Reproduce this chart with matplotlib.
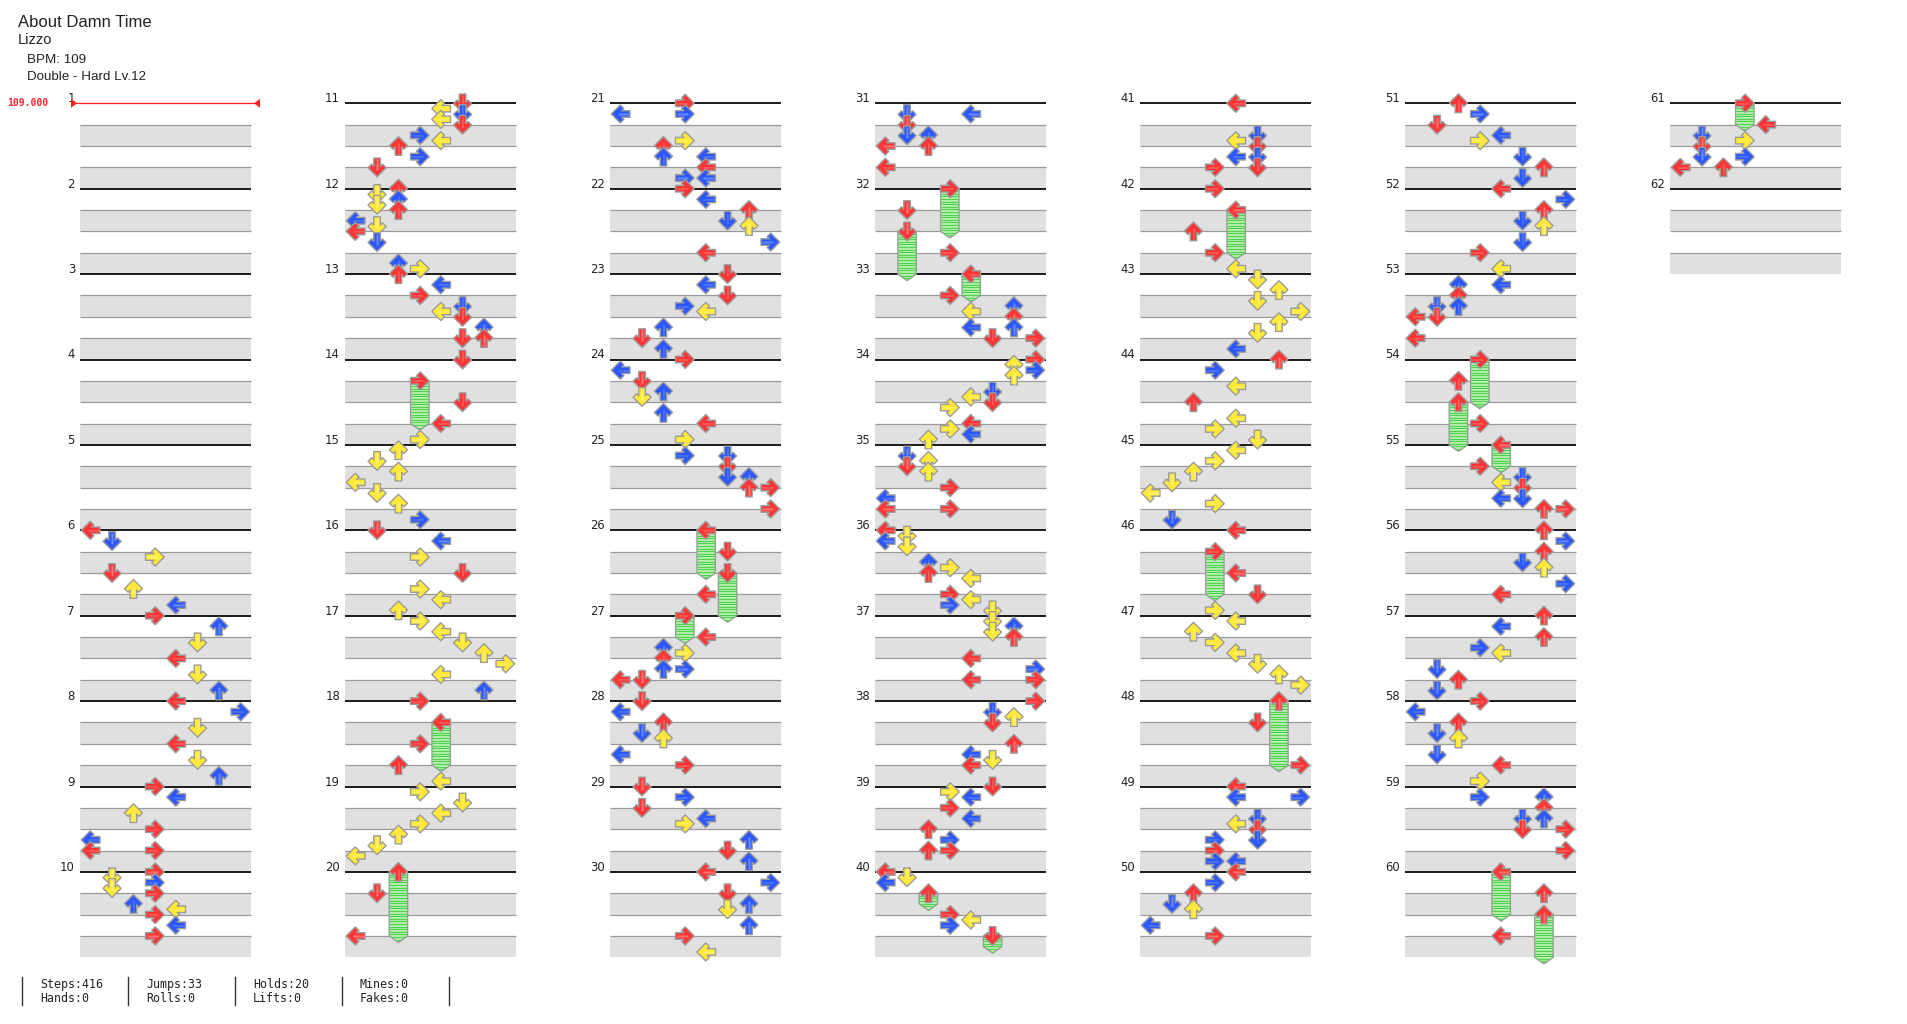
import numpy as np
import matplotlib
matplotlib.use('Agg')
import matplotlib.pyplot as plt
from matplotlib.patches import Polygon, Rectangle
from matplotlib.collections import PolyCollection, LineCollection

title = 'About Damn Time'
artist = 'Lizzo'
bpm_line = 'BPM: 109'
chart_line = 'Double - Hard Lv.12'
bpm_value = '109.000'
n_measures = 62

# (measure, beat in measure, lane)  lanes: 0-3 = P1 L D U R, 4-7 = P2 L D U R
steps = [
    (6, 0, 0), (6, 0.5, 1), (6, 1.25, 3), (6, 2, 1), (6, 2.75, 2), (6, 3.5, 4),
    (7, 0, 3), (7, 0.5, 6), (7, 1.25, 5), (7, 2, 4), (7, 2.75, 5), (7, 3.5, 6),
    (8, 0, 4), (8, 0.5, 7), (8, 1.25, 5), (8, 2, 4), (8, 2.75, 5), (8, 3.5, 6),
    (9, 0, 3), (9, 0.5, 4), (9, 1.25, 2), (9, 2, 3), (9, 2.5, 0), (9, 3, 0), (9, 3, 3),
    (10, 0, 3), (10, 0.25, 1), (10, 0.5, 3), (10, 0.75, 1), (10, 1, 3), (10, 1.5, 2),
    (10, 1.75, 4), (10, 2, 3), (10, 2.5, 4), (10, 3, 3),
    (11, 0, 5), (11, 0.25, 4), (11, 0.5, 5), (11, 0.75, 4), (11, 1, 5), (11, 1.5, 3),
    (11, 1.75, 4), (11, 2, 2), (11, 2.5, 3), (11, 3, 1),
    (12, 0, 2), (12, 0.25, 1), (12, 0.5, 2), (12, 0.75, 1), (12, 1, 2), (12, 1.5, 0),
    (12, 1.75, 1), (12, 2, 0), (12, 2.5, 1), (12, 3.5, 2), (12, 3.75, 3),
    (13, 0, 2), (13, 0.5, 4), (13, 1, 3), (13, 1.5, 5), (13, 1.75, 4), (13, 2, 5),
    (13, 2.5, 6), (13, 3, 5), (13, 3, 6),
    (14, 0, 5), (14, 2, 5), (14, 3, 4), (14, 3.75, 3),
    (15, 0.25, 2), (15, 0.75, 1), (15, 1.25, 2), (15, 1.75, 0), (15, 2.25, 1), (15, 2.75, 2), (15, 3.5, 3),
    (16, 0, 1), (16, 0.5, 4), (16, 1.25, 3), (16, 2, 5), (16, 2.75, 3), (16, 3.25, 4), (16, 3.75, 2),
    (17, 0.25, 3), (17, 0.75, 4), (17, 1.25, 5), (17, 1.75, 6), (17, 2.25, 7), (17, 2.75, 4), (17, 3.5, 6),
    (18, 0, 3), (18, 2, 3), (18, 3, 2), (18, 3.75, 4),
    (19, 0.25, 3), (19, 0.75, 5), (19, 1.25, 4), (19, 1.75, 3), (19, 2.25, 2), (19, 2.75, 1), (19, 3.25, 0),
    (20, 1, 1), (20, 3, 0),
    (21, 0, 3), (21, 0.5, 0), (21, 0.5, 3), (21, 1.75, 3), (21, 2, 2), (21, 2.5, 2), (21, 2.5, 4),
    (21, 3, 4), (21, 3.5, 3), (21, 3.5, 4),
    (22, 0, 3), (22, 0.5, 4), (22, 1, 6), (22, 1.5, 5), (22, 1.75, 6), (22, 2.5, 7), (22, 3, 4),
    (23, 0, 5), (23, 0.5, 4), (23, 1, 5), (23, 1.5, 3), (23, 1.75, 4), (23, 2.5, 2), (23, 3, 1), (23, 3.5, 2),
    (24, 0, 3), (24, 0.5, 0), (24, 1, 1), (24, 1.5, 2), (24, 1.75, 1), (24, 2.5, 2), (24, 3, 4), (24, 3.75, 3),
    (25, 0.5, 3), (25, 0.5, 5), (25, 1, 5), (25, 1.5, 5), (25, 1.5, 6), (25, 2, 6), (25, 2, 7), (25, 3, 7),
    (26, 1, 5), (26, 3, 4),
    (27, 1, 4), (27, 1.5, 2), (27, 1.75, 3), (27, 2, 2), (27, 2.5, 2), (27, 2.5, 3), (27, 3, 0), (27, 3, 1),
    (28, 0, 1), (28, 0.5, 0), (28, 1, 2), (28, 1.5, 1), (28, 1.75, 2), (28, 2.5, 0), (28, 3, 3),
    (29, 0, 1), (29, 0.5, 3), (29, 1, 1), (29, 1.5, 4), (29, 1.75, 3), (29, 2.5, 6), (29, 3, 5), (29, 3.5, 6),
    (30, 0, 4), (30, 0.5, 7), (30, 1, 5), (30, 1.5, 6), (30, 1.75, 5), (30, 2.5, 6), (30, 3, 3), (30, 3.75, 4),
    (31, 0.5, 1), (31, 0.5, 4), (31, 1, 1), (31, 1.5, 1), (31, 1.5, 2), (31, 2, 0), (31, 2, 2), (31, 3, 0),
    (32, 1, 1), (32, 3, 3),
    (33, 1, 3), (33, 1.5, 6), (33, 1.75, 4), (33, 2, 6), (33, 2.5, 4), (33, 2.5, 6), (33, 3, 5), (33, 3, 7),
    (34, 0, 7), (34, 0.25, 6), (34, 0.5, 7), (34, 0.75, 6), (34, 1.5, 5), (34, 1.75, 4), (34, 2, 5),
    (34, 2.25, 3), (34, 3, 4), (34, 3.25, 3), (34, 3.5, 4), (34, 3.75, 2),
    (35, 0.5, 1), (35, 0.75, 2), (35, 1, 1), (35, 1.25, 2), (35, 2, 3), (35, 2.5, 0), (35, 3, 0), (35, 3, 3),
    (36, 0, 0), (36, 0.25, 1), (36, 0.5, 0), (36, 0.75, 1), (36, 1.5, 2), (36, 1.75, 3), (36, 2, 2),
    (36, 2.25, 4), (36, 3, 3), (36, 3.25, 4), (36, 3.5, 3), (36, 3.75, 5),
    (37, 0.25, 5), (37, 0.5, 6), (37, 0.75, 5), (37, 1, 6), (37, 2, 4), (37, 2.5, 7), (37, 3, 4), (37, 3, 7),
    (38, 0, 7), (38, 0.5, 5), (38, 0.75, 6), (38, 1, 5), (38, 2, 6), (38, 2.5, 4), (38, 2.75, 5), (38, 3, 4),
    (39, 0, 5), (39, 0.25, 3), (39, 0.5, 4), (39, 1, 3), (39, 1.5, 4), (39, 2, 2), (39, 2.5, 3), (39, 3, 2), (39, 3, 3),
    (40, 0, 0), (40, 0.25, 1), (40, 0.5, 0), (40, 2, 3), (40, 2.25, 4), (40, 2.5, 3),
    (41, 0, 4), (41, 1.5, 5), (41, 1.75, 4), (41, 2, 5), (41, 2.5, 4), (41, 2.5, 5), (41, 3, 3), (41, 3, 5),
    (42, 0, 3), (42, 2, 2), (42, 3, 3), (42, 3.75, 4),
    (43, 0.25, 5), (43, 0.75, 6), (43, 1.25, 5), (43, 1.75, 7), (43, 2.25, 6), (43, 2.75, 5), (43, 3.5, 4),
    (44, 0, 6), (44, 0.5, 3), (44, 1.25, 4), (44, 2, 2), (44, 2.75, 4), (44, 3.25, 3), (44, 3.75, 5),
    (45, 0.25, 4), (45, 0.75, 3), (45, 1.25, 2), (45, 1.75, 1), (45, 2.25, 0), (45, 2.75, 3), (45, 3.5, 1),
    (46, 0, 4), (46, 2, 4), (46, 3, 5), (46, 3.75, 3),
    (47, 0.25, 4), (47, 0.75, 2), (47, 1.25, 3), (47, 1.75, 4), (47, 2.25, 5), (47, 2.75, 6), (47, 3.25, 7),
    (48, 1, 5), (48, 3, 7),
    (49, 0, 4), (49, 0.5, 4), (49, 0.5, 7), (49, 1.5, 5), (49, 1.75, 4), (49, 2, 5), (49, 2.5, 3),
    (49, 2.5, 5), (49, 3, 3), (49, 3.5, 3), (49, 3.5, 4),
    (50, 0, 4), (50, 0.5, 3), (50, 1, 2), (50, 1.5, 1), (50, 1.75, 2), (50, 2.5, 0), (50, 3, 3),
    (51, 0, 2), (51, 0.5, 3), (51, 1, 1), (51, 1.5, 4), (51, 1.75, 3), (51, 2.5, 5), (51, 3, 6), (51, 3.5, 5),
    (52, 0, 4), (52, 0.5, 7), (52, 1, 6), (52, 1.5, 5), (52, 1.75, 6), (52, 2.5, 5), (52, 3, 3), (52, 3.75, 4),
    (53, 0.5, 2), (53, 0.5, 4), (53, 1, 2), (53, 1.5, 1), (53, 1.5, 2), (53, 2, 0), (53, 2, 1), (53, 3, 0),
    (54, 1, 2), (54, 3, 3),
    (55, 1, 3), (55, 1.5, 5), (55, 1.75, 4), (55, 2, 5), (55, 2.5, 4), (55, 2.5, 5), (55, 3, 6), (55, 3, 7),
    (56, 0, 6), (56, 0.5, 7), (56, 1, 6), (56, 1.5, 5), (56, 1.75, 6), (56, 2.5, 7), (56, 3, 4),
    (57, 0, 6), (57, 0.5, 4), (57, 1, 6), (57, 1.5, 3), (57, 1.75, 4), (57, 2.5, 1), (57, 3, 2), (57, 3.5, 1),
    (58, 0, 3), (58, 0.5, 0), (58, 1, 2), (58, 1.5, 1), (58, 1.75, 2), (58, 2.5, 1), (58, 3, 4), (58, 3.75, 3),
    (59, 0.5, 3), (59, 0.5, 6), (59, 1, 6), (59, 1.5, 5), (59, 1.5, 6), (59, 2, 5), (59, 2, 7), (59, 3, 7),
    (60, 1, 6), (60, 3, 4),
    (61, 1, 4), (61, 1.5, 1), (61, 1.75, 3), (61, 2, 1), (61, 2.5, 1), (61, 2.5, 3), (61, 3, 0), (61, 3, 2),
]

# freeze arrows: (measure, beat, lane, length in beats)
holds = [
    (14, 1, 3, 2), (18, 1, 4, 2), (20, 0, 2, 3), (26, 0, 4, 2), (26, 2, 5, 2),
    (27, 0, 3, 1), (32, 0, 3, 2), (32, 2, 1, 2), (33, 0, 4, 1), (40, 1, 2, 0.5),
    (40, 3, 5, 0.5), (42, 1, 4, 2), (46, 1, 3, 2), (48, 0, 6, 3), (54, 0, 3, 2),
    (54, 2, 2, 2), (55, 0, 4, 1), (60, 0, 4, 2), (60, 2, 6, 2), (61, 0, 3, 1),
]

stats_top = ['Steps:416', 'Jumps:33', 'Holds:20', 'Mines:0']
stats_bottom = ['Hands:0', 'Rolls:0', 'Lifts:0', 'Fakes:0']

# layout in pixels
COL_X0, COL_DX, COL_W = 80, 265, 171
TOP, MEAS_H = 103.3, 85.4
BEAT = MEAS_H / 4
LANE_W = COL_W / 8
PER_COL = 10

FILL = {'red': '#ff3636', 'blue': '#2b58ff', 'yellow': '#ffe836'}
SHINE = {'red': '#ff7272', 'blue': '#6a88ff', 'yellow': '#fff27a'}
EDGE = '#9c9c9c'


def pos(m, b, lane):
    c, r = (m - 1) // PER_COL, (m - 1) % PER_COL
    x0 = COL_X0 + COL_DX * c
    return x0 + LANE_W * (lane + 0.5), TOP + MEAS_H * r + BEAT * b


def note_kind(b):
    f = b % 1
    if f == 0:
        return 'red'
    if f == 0.5:
        return 'blue'
    return 'yellow'


# left arrow outline, pixel offsets from centre
BASE = np.array([[-9.4, 0], [-0.4, -9.0], [3.2, -5.4], [1.0, -3.3], [9.3, -3.3],
                 [9.3, 3.3], [1.0, 3.3], [3.2, 5.4], [-0.4, 9.0]])
# light streak along the shaft
STREAK = np.array([[-3.0, -0.6], [8.0, -0.6], [8.0, 0.6], [-3.0, 0.6]])


def orient(shape, cx, cy, lane):
    x, y = shape[:, 0], shape[:, 1]
    d = lane % 4
    if d == 0:
        px, py = x, y
    elif d == 1:
        px, py = y, -x
    elif d == 2:
        px, py = y, x
    else:
        px, py = -x, y
    return np.column_stack([cx + px, cy + py])


fig = plt.figure(figsize=(19.07, 10.24), dpi=100)
ax = fig.add_axes([0, 0, 1, 1])
ax.set_xlim(0, 1907)
ax.set_ylim(1024, 0)
ax.axis('off')

# grid
grey_lines, black_lines = [], []
for m in range(1, n_measures + 1):
    c, r = (m - 1) // PER_COL, (m - 1) % PER_COL
    x0 = COL_X0 + COL_DX * c
    ym = TOP + MEAS_H * r
    for k in (1, 3):
        ax.add_patch(Rectangle((x0, ym + k * BEAT), COL_W, BEAT, fc='#e0e0e0', ec='none', zorder=1))
    for k in (1, 2, 3):
        grey_lines.append([(x0, ym + k * BEAT), (x0 + COL_W, ym + k * BEAT)])
    if m != 1:
        black_lines.append([(x0, ym), (x0 + COL_W, ym)])
    ax.text(x0 - 5, ym - 1, str(m), ha='right', va='baseline', fontsize=8.4,
            family='DejaVu Sans', color='#222222', zorder=2)
ax.add_collection(LineCollection(grey_lines, colors='#9a9a9a', linewidths=0.9, zorder=2))
ax.add_collection(LineCollection(black_lines, colors='#1a1a1a', linewidths=1.4, zorder=2))

# bpm marker on measure 1
ax.plot([72, 259], [TOP, TOP], color='#ff2020', lw=0.9, zorder=3)
ax.add_patch(Polygon([(71, TOP - 4.5), (71, TOP + 4.5), (77, TOP)], closed=True, fc='#ff2020', ec='none', zorder=3))
ax.add_patch(Polygon([(260, TOP - 4.5), (260, TOP + 4.5), (254, TOP)], closed=True, fc='#ff2020', ec='none', zorder=3))
ax.text(7, TOP, bpm_value, ha='left', va='center', fontsize=7, family='DejaVu Sans Mono',
        weight='bold', color='#ff2a2a', zorder=3)

# freeze bodies
for m, b, lane, length in holds:
    cx, y0 = pos(m, b, lane)
    y1 = y0 + length * BEAT
    w = 9.2
    body = Polygon([(cx - w, y0), (cx, y0 - 6), (cx + w, y0), (cx + w, y1), (cx, y1 + 6.5), (cx - w, y1)],
                   closed=True, fc='#b4f0ae', ec=EDGE, lw=1.0, zorder=4)
    ax.add_patch(body)
    ys = np.arange(y0, y1 + 6, 2.6)
    lc = LineCollection([[(cx - w, yy), (cx + w, yy)] for yy in ys], colors='#52d052', linewidths=0.8, zorder=4.5)
    ax.add_collection(lc)
    lc.set_clip_path(body)

# arrows, drawn in time order (later notes on top)
notes = [(m, b, lane) for m, b, lane in steps] + [(m, b, lane) for m, b, lane, _ in holds]
notes.sort(key=lambda n: (n[0] * 4 + n[1], n[2]))
polys, fcs, ecs = [], [], []
for m, b, lane in notes:
    cx, cy = pos(m, b, lane)
    kind = note_kind(b)
    polys.append(orient(BASE, cx, cy, lane))
    fcs.append(FILL[kind])
    ecs.append(EDGE)
    polys.append(orient(STREAK, cx, cy, lane))
    fcs.append(SHINE[kind])
    ecs.append('none')
ax.add_collection(PolyCollection(polys, facecolors=fcs, edgecolors=ecs, linewidths=1.0, zorder=5))

# header
ax.text(18, 26.7, title, fontsize=12, family='Liberation Sans', color='#222222', va='baseline')
ax.text(18, 44.3, artist, fontsize=10.5, family='Liberation Sans', color='#222222', va='baseline')
ax.text(27, 62.7, bpm_line, fontsize=9.6, family='Liberation Sans', color='#222222', va='baseline')
ax.text(27, 80, chart_line, fontsize=9.6, family='Liberation Sans', color='#222222', va='baseline')

# footer stats
for i in range(5):
    bx = 21.7 + 106.7 * i
    ax.plot([bx, bx], [977, 1005], color='#333333', lw=1.0)
for i, (a, b) in enumerate(zip(stats_top, stats_bottom)):
    tx = 40 + 106.5 * i
    ax.text(tx, 988, a, fontsize=8.4, family='DejaVu Sans Mono', color='#222222', va='baseline')
    ax.text(tx, 1002, b, fontsize=8.4, family='DejaVu Sans Mono', color='#222222', va='baseline')

fig.savefig('out.png', dpi=100)
